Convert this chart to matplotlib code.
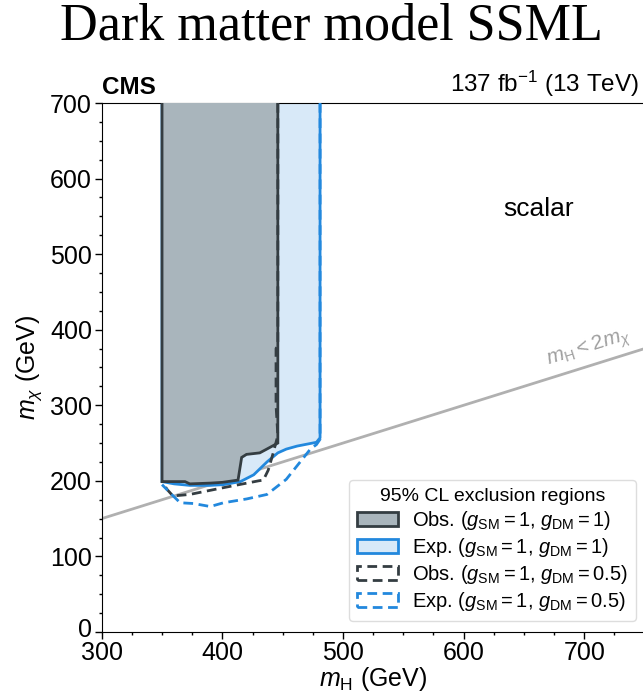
import numpy as np
import matplotlib
matplotlib.use("Agg")
import matplotlib.pyplot as plt
from matplotlib.patches import Patch
from matplotlib.transforms import ScaledTranslation

plt.rcParams["font.family"] = ["Liberation Sans", "DejaVu Sans"]
plt.rcParams["mathtext.fontset"] = "custom"
plt.rcParams["mathtext.rm"] = "Liberation Sans"
plt.rcParams["mathtext.it"] = "Liberation Sans:italic"
plt.rcParams["mathtext.bf"] = "Liberation Sans:bold"

# observed, g_SM = 1, g_DM = 1 (filled)
obs1_x = [350, 350, 369, 373, 390, 400, 413, 416, 420, 431, 438, 446, 446]
obs1_y = [710, 199, 199, 196, 197, 198, 201, 231, 235, 237, 243, 250, 710]

# expected, g_SM = 1, g_DM = 1 (filled)
exp1_x = [350, 350, 360, 373, 390, 401, 415, 426, 437, 446, 453, 462, 478, 481, 481]
exp1_y = [710, 199, 196, 194, 194, 195, 199, 208, 225, 237, 242, 246, 251, 257, 710]

# observed, g_DM = 0.5 (dashed)
obs05_x = [446, 446, 444.5, 444.5, 446, 442, 438, 434, 430, 401, 373, 359, 354, 351, 350]
obs05_y = [700, 380, 375, 300, 260, 236, 214, 201, 200, 191, 182, 180, 189, 197, 200]

# expected, g_DM = 0.5 (dashed)
exp05_x = [481, 481, 478, 473, 464, 453, 437, 420, 401, 390, 376, 365, 358, 350]
exp05_y = [700, 255, 248, 242, 224, 202, 182, 176, 171, 166, 170, 171, 182, 195]

# kinematic line m_H = 2 m_chi
kin_mH = np.array([300, 750])
kin_mchi = kin_mH / 2

dark = "#343d42"
grey_fill = "#a9b5bc"
blue = "#2288dd"
blue_fill = "#d8e9f8"
dash = (0, (3.5, 2))

fig = plt.figure(figsize=(6.43, 6.97), dpi=100)
ax = fig.add_axes([0.1582, 0.0933, 0.8442, 0.7589])

ax.plot(kin_mH, kin_mchi, color="#b0b0b0", lw=2, zorder=1)
ax.text(707, 360, r"$m_{\rm H} < 2m_{\chi}$", color="#a0a0a0", fontsize=15,
        rotation=np.degrees(np.arctan(0.5)), transform_rotates_text=True,
        rotation_mode="anchor", ha="center", va="bottom")

ax.fill(exp1_x, exp1_y, facecolor=blue_fill, edgecolor=blue, lw=2, zorder=2)
ax.fill(obs1_x, obs1_y, facecolor=grey_fill, edgecolor=dark, lw=2, zorder=3)
ax.plot(obs05_x, obs05_y, color=dark, lw=2, ls=dash, zorder=4)
ax.plot(exp05_x, exp05_y, color=blue, lw=2, ls=dash, zorder=4)

ax.set_xlim(300, 750)
ax.set_ylim(0, 700)
ax.set_xticks([300, 400, 500, 600, 700])
ax.set_xticks(np.arange(300, 751, 25), minor=True)
ax.set_yticks(np.arange(0, 701, 100))
ax.set_yticks(np.arange(0, 701, 25), minor=True)
ax.tick_params(which="major", labelsize=18, length=5, width=1)
ax.tick_params(axis="x", which="major", pad=1.5)
ax.tick_params(axis="y", which="major", pad=2)
ax.tick_params(which="minor", length=2.5, width=1)
ax.set_xlabel(r"$m_{\rm H}$ (GeV)", fontsize=18, labelpad=0)
ax.set_ylabel(r"$m_{\chi}$ (GeV)", fontsize=18, labelpad=4)

# nudge the "0" label up a little so it clears "300"
fig.canvas.draw()
zero = ax.get_yticklabels()[0]
zero.set_transform(zero.get_transform() + ScaledTranslation(0, 3 / 72, fig.dpi_scale_trans))

ax.text(0.0, 1.008, "CMS", transform=ax.transAxes, fontsize=17.5, fontweight="bold",
        ha="left", va="bottom")
ax.text(0.99, 1.008, r"137 fb$^{-1}$ (13 TeV)", transform=ax.transAxes, fontsize=17.5,
        ha="right", va="bottom")
ax.text(662, 560, "scalar", fontsize=19, ha="center", va="center")

handles = [
    Patch(facecolor=grey_fill, edgecolor=dark, lw=2),
    Patch(facecolor=blue_fill, edgecolor=blue, lw=2),
    Patch(facecolor="none", edgecolor=dark, lw=2, ls=dash),
    Patch(facecolor="none", edgecolor=blue, lw=2, ls=dash),
]
labels = [
    r"Obs. ($g_{\rm SM} = 1$, $g_{\rm DM} = 1$)",
    r"Exp. ($g_{\rm SM} = 1$, $g_{\rm DM} = 1$)",
    r"Obs. ($g_{\rm SM} = 1$, $g_{\rm DM} = 0.5$)",
    r"Exp. ($g_{\rm SM} = 1$, $g_{\rm DM} = 0.5$)",
]
leg = ax.legend(handles, labels, title="95% CL exclusion regions", fontsize=14.5,
                title_fontsize=14, loc="lower right", bbox_to_anchor=(0.984, 0.02),
                borderaxespad=0, handlelength=2.0, handletextpad=0.7, labelspacing=0.2,
                borderpad=0.4, framealpha=1, edgecolor="#dddddd")

fig.text(0.515, 0.997, "Dark matter model SSML", fontsize=37.5, family="Liberation Serif",
         ha="center", va="top")

fig.savefig("out.png", dpi=100)
